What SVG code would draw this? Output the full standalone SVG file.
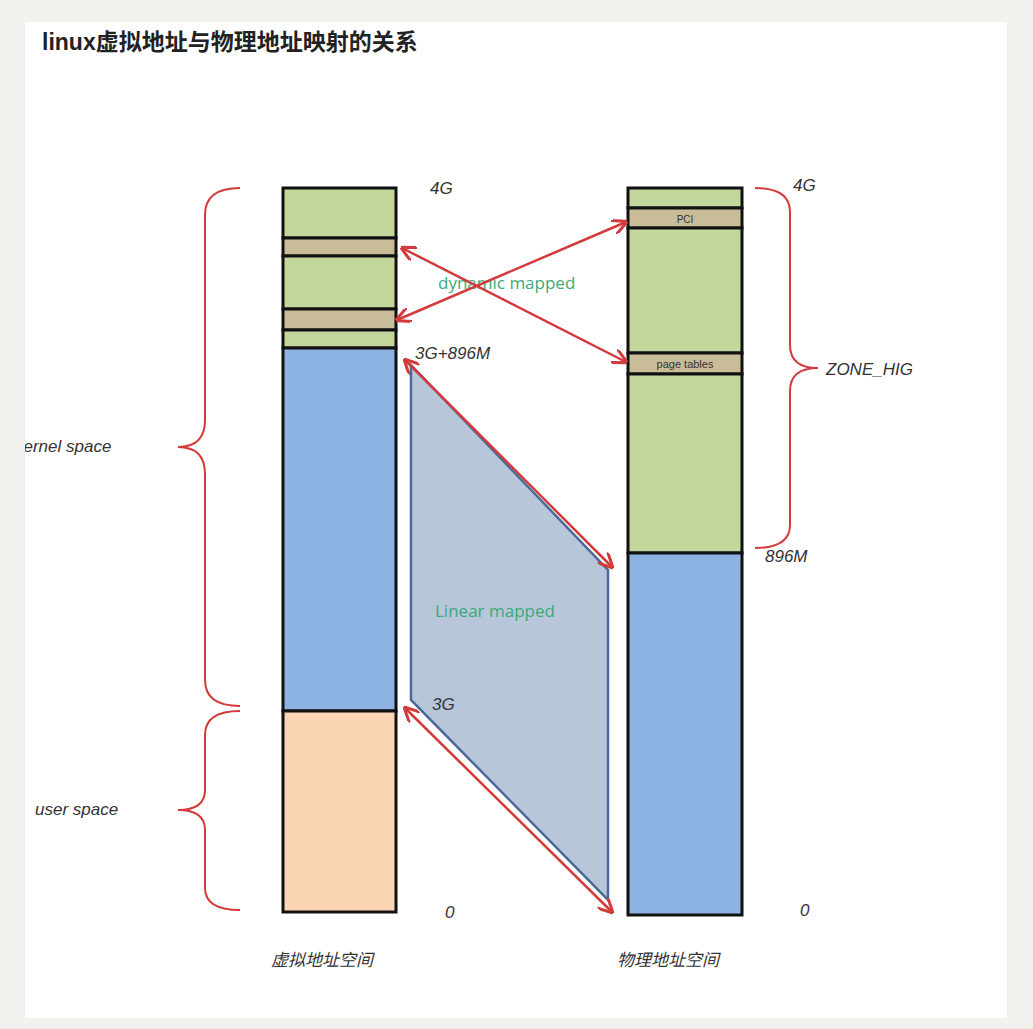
<svg xmlns="http://www.w3.org/2000/svg" width="1033" height="1029" viewBox="0 0 1033 1029">
<style>
.lbl{font-family:"Liberation Sans","Noto Sans CJK SC",sans-serif;font-style:italic;fill:#333;font-size:17px}
.seg{stroke:#111;stroke-width:3}
.g{fill:#c3d69b}.t{fill:#c9bc98}.b{fill:#8db3e2}.p{fill:#fcd5b5}
.red{stroke:#d43a3a;stroke-width:2.5;fill:none;marker-start:url(#ah);marker-end:url(#ah)}
.brace{stroke:#d43a3a;stroke-width:2;fill:none}
.map{font-family:"Open Sans","Liberation Sans",sans-serif;fill:#3aaa7a;font-size:17px}
</style>
<defs>
<marker id="ah" viewBox="0 0 10 10" refX="9" refY="5" markerWidth="6" markerHeight="6" orient="auto-start-reverse"><path d="M0,0 L10,5 L0,10" fill="none" stroke="#d43a3a" stroke-width="2"/></marker>
<clipPath id="panel"><rect x="25" y="22" width="982" height="996"/></clipPath>
</defs>
<rect width="1033" height="1029" fill="#f2f1ee"/>
<rect x="25" y="22" width="982" height="996" fill="#fff"/>
<text x="42" y="50" font-family="Liberation Sans,'Noto Sans CJK SC',sans-serif" font-size="23" font-weight="bold" fill="#222">linux虚拟地址与物理地址映射的关系</text>
<g id="mapping-area">
<polygon points="411,365 608,570 608,900 411,700" fill="#b8c6d9" stroke="#4a6a9a" stroke-width="2.5"/>
<text class="map" x="435" y="617">Linear mapped</text>
<text class="map" x="438" y="289">dynamic mapped</text>
</g>
<g id="virtual">
<rect class="seg g" x="283" y="188" width="113" height="50"/>
<rect class="seg t" x="283" y="238" width="113" height="18"/>
<rect class="seg g" x="283" y="256" width="113" height="53"/>
<rect class="seg t" x="283" y="309" width="113" height="21"/>
<rect class="seg g" x="283" y="330" width="113" height="18"/>
<rect class="seg b" x="283" y="348" width="113" height="363"/>
<rect class="seg p" x="283" y="711" width="113" height="201"/>
</g>
<g id="physical">
<rect class="seg g" x="628" y="188" width="114" height="20"/>
<rect class="seg t" x="628" y="208" width="114" height="20"/>
<rect class="seg g" x="628" y="228" width="114" height="125"/>
<rect class="seg t" x="628" y="353" width="114" height="21"/>
<rect class="seg g" x="628" y="374" width="114" height="179"/>
<rect class="seg b" x="628" y="553" width="114" height="362"/>
<text x="685" y="223" font-family="Liberation Sans,sans-serif" font-size="10" text-anchor="middle" fill="#333">PCI</text>
<text x="685" y="368" font-family="Liberation Sans,sans-serif" font-size="11" text-anchor="middle" fill="#333">page tables</text>
</g>
<g id="connectors">
<line class="red" x1="405" y1="360" x2="612" y2="567"/>
<line class="red" x1="405" y1="708" x2="612" y2="912"/>
<line class="red" x1="397" y1="320" x2="626" y2="222"/>
<line class="red" x1="402" y1="248" x2="626" y2="362"/>
<path class="brace" d="M240,188 Q205,188 205,215 L205,420 Q205,447 178,447 Q205,447 205,474 L205,680 Q205,706 240,706"/>
<path class="brace" d="M240,711 Q205,711 205,735 L205,790 Q205,810 178,810 Q205,810 205,830 L205,888 Q205,910 240,910"/>
<path class="brace" d="M755,188 Q790,188 790,212 L790,345 Q790,368 818,368 Q790,368 790,391 L790,525 Q790,548 755,548"/>
</g>
<g id="labels">
<text class="lbl" x="430" y="194">4G</text>
<text class="lbl" x="415" y="359">3G+896M</text>
<text class="lbl" x="432" y="710">3G</text>
<text class="lbl" x="445" y="918">0</text>
<text class="lbl" x="793" y="191">4G</text>
<text class="lbl" x="765" y="562">896M</text>
<text class="lbl" x="800" y="916">0</text>
<text class="lbl" x="826" y="375">ZONE_HIG</text>
<text class="lbl" x="15" y="452" clip-path="url(#panel)">kernel space</text>
<text class="lbl" x="35" y="815">user space</text>
<text class="lbl" x="322" y="966" text-anchor="middle" font-size="19" fill="#666">虚拟地址空间</text>
<text class="lbl" x="668" y="966" text-anchor="middle" font-size="19" fill="#666">物理地址空间</text>
</g>
</svg>
